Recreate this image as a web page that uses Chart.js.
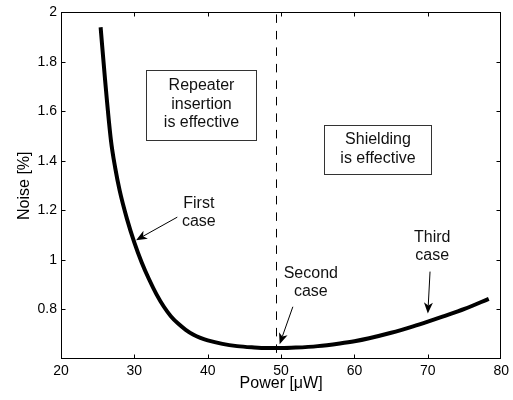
<!DOCTYPE html>
<html><head><meta charset="utf-8">
<script src="https://cdn.jsdelivr.net/npm/chart.js@4.4.1/dist/chart.umd.min.js"></script>
<style>html,body{margin:0;padding:0;background:#fff}</style>
</head><body>
<canvas id="c" width="513" height="400"></canvas>
<script>
// ---- data ----
const powerValues = [25.4, 26, 26.8, 27.4, 28, 29, 30, 31, 32, 33, 34, 35, 36, 37, 38, 39, 40, 42, 44, 46, 48, 50, 52, 55, 58, 60, 62, 65, 68, 70, 72, 75, 78.3];
const noiseValues = [1.94, 1.73, 1.485, 1.37, 1.28, 1.165, 1.07, 0.99, 0.922, 0.862, 0.812, 0.772, 0.742, 0.718, 0.699, 0.685, 0.675, 0.661, 0.652, 0.647, 0.644, 0.644, 0.646, 0.652, 0.663, 0.672, 0.684, 0.706, 0.732, 0.751, 0.771, 0.802, 0.843];
const xTickValues = [20, 30, 40, 50, 60, 70, 80];
const yTickValues = [0.8, 1, 1.2, 1.4, 1.6, 1.8, 2];
const boundaryPower = 49.3;

// annotation texts (anchored in data coordinates)
const boxedNotes = [
  { lines: ['Repeater', 'insertion', 'is effective'], x1: 31.58, x2: 46.58, yTop: 1.769, yBottom: 1.485 },
  { lines: ['Shielding', 'is effective'], x1: 55.9, x2: 70.45, yTop: 1.544, yBottom: 1.347 }
];
const caseNotes = [
  { lines: ['First', 'case'], x: 38.78, y: 1.191, from: [35.85, 1.173], to: [30.23, 1.08] },
  { lines: ['Second', 'case'], x: 54.05, y: 0.909, from: [51.6, 0.811], to: [49.8, 0.66] },
  { lines: ['Third', 'case'], x: 70.6, y: 1.055, from: [70.3, 0.953], to: [70.0, 0.784] }
];

const FONT = "'Liberation Sans', Arial, Helvetica, sans-serif";

const overlay = {
  id: 'overlay',
  beforeDatasetsDraw(chart) {
    const { ctx, chartArea: a, scales: { x } } = chart;
    const px = Math.round(x.getPixelForValue(boundaryPower)) + 0.5;
    ctx.save();
    ctx.strokeStyle = '#000';
    ctx.lineWidth = 1;
    ctx.setLineDash([8.5, 8]);
    ctx.beginPath();
    ctx.moveTo(px, a.top + 2);
    ctx.lineTo(px, a.bottom);
    ctx.stroke();
    ctx.restore();
  },
  afterDraw(chart) {
    const { ctx, chartArea: a, scales: { x, y } } = chart;
    ctx.save();
    // frame
    ctx.strokeStyle = '#000';
    ctx.lineWidth = 1;
    const L = Math.round(a.left) + 0.5, R = Math.round(a.right) - 0.5;
    const T = Math.round(a.top) + 0.5, B = Math.round(a.bottom) - 0.5;
    ctx.strokeRect(L, T, R - L, B - T);
    // inward ticks
    const tl = 4;
    ctx.beginPath();
    xTickValues.forEach(v => {
      const p = Math.round(x.getPixelForValue(v)) + 0.5;
      if (p <= L + 1 || p >= R - 1) return;
      ctx.moveTo(p, B); ctx.lineTo(p, B - tl);
      ctx.moveTo(p, T); ctx.lineTo(p, T + tl);
    });
    yTickValues.forEach(v => {
      const p = Math.round(y.getPixelForValue(v)) + 0.5;
      if (p <= T + 1 || p >= B - 1) return;
      ctx.moveTo(L, p); ctx.lineTo(L + tl, p);
      ctx.moveTo(R, p); ctx.lineTo(R - tl, p);
    });
    ctx.stroke();

    // text notes
    ctx.font = '16px ' + FONT;
    ctx.fillStyle = '#111';
    ctx.textAlign = 'center';
    ctx.textBaseline = 'middle';
    const lh = 18.5;
    const drawLines = (lines, cx, cy) => {
      const start = cy - (lines.length - 1) * lh / 2;
      lines.forEach((t, i) => ctx.fillText(t, cx, start + i * lh));
    };
    boxedNotes.forEach(n => {
      const x1 = Math.round(x.getPixelForValue(n.x1)) + 0.5, x2 = Math.round(x.getPixelForValue(n.x2)) + 0.5;
      const y1 = Math.round(y.getPixelForValue(n.yTop)) + 0.5, y2 = Math.round(y.getPixelForValue(n.yBottom)) + 0.5;
      ctx.strokeStyle = '#333';
      ctx.lineWidth = 1;
      ctx.strokeRect(x1, y1, x2 - x1, y2 - y1);
      drawLines(n.lines, (x1 + x2) / 2, (y1 + y2) / 2 - 1);
    });
    caseNotes.forEach(n => {
      drawLines(n.lines, x.getPixelForValue(n.x), y.getPixelForValue(n.y));
      const sx = x.getPixelForValue(n.from[0]), sy = y.getPixelForValue(n.from[1]);
      const ex = x.getPixelForValue(n.to[0]), ey = y.getPixelForValue(n.to[1]);
      const ang = Math.atan2(ey - sy, ex - sx);
      const hl = 11, hw = 4.5, back = 3;
      ctx.strokeStyle = '#000';
      ctx.lineWidth = 1;
      ctx.beginPath();
      ctx.moveTo(sx, sy);
      ctx.lineTo(ex - Math.cos(ang) * (hl - back), ey - Math.sin(ang) * (hl - back));
      ctx.stroke();
      const c = Math.cos(ang), s = Math.sin(ang);
      const bx = ex - c * hl, by = ey - s * hl;
      ctx.fillStyle = '#000';
      ctx.beginPath();
      ctx.moveTo(ex, ey);
      ctx.lineTo(bx - s * hw, by + c * hw);
      ctx.lineTo(ex - c * (hl - back), ey - s * (hl - back));
      ctx.lineTo(bx + s * hw, by - c * hw);
      ctx.closePath();
      ctx.fill();
      ctx.fillStyle = '#111';
    });
    ctx.restore();
  }
};

new Chart(document.getElementById('c'), {
  type: 'line',
  data: {
    datasets: [{
      data: powerValues.map((p, i) => ({ x: p, y: noiseValues[i] })),
      borderColor: '#000',
      borderWidth: 4,
      pointRadius: 0,
      fill: false,
      cubicInterpolationMode: 'monotone'
    }]
  },
  options: {
    responsive: false,
    devicePixelRatio: 1,
    animation: false,
    layout: { padding: { top: 10, right: 8, left: 0, bottom: 0 } },
    plugins: { legend: { display: false }, tooltip: { enabled: false } },
    scales: {
      x: {
        type: 'linear', min: 20, max: 80,
        afterBuildTicks: s => { s.ticks = xTickValues.map(v => ({ value: v })); },
        afterFit: s => { s.height = 41; },
        grid: { display: false, drawTicks: false },
        border: { display: false },
        ticks: { color: '#000', font: { family: FONT, size: 14 }, padding: 4, maxRotation: 0, autoSkip: false },
        title: { display: true, text: 'Power [μW]', color: '#000', font: { family: FONT, size: 16 }, padding: { top: 0, bottom: 7 } }
      },
      y: {
        type: 'linear', min: 0.6, max: 2,
        afterBuildTicks: s => { s.ticks = yTickValues.map(v => ({ value: v })); },
        afterFit: s => { s.width = 61; },
        grid: { display: false, drawTicks: false },
        border: { display: false },
        ticks: { color: '#000', font: { family: FONT, size: 14 }, padding: 4, autoSkip: false,
          callback: v => String(Number(Number(v).toFixed(1))) },
        title: { display: true, text: 'Noise [%]', color: '#000', font: { family: FONT, size: 16 }, padding: { top: 15, bottom: 0 } }
      }
    }
  },
  plugins: [overlay]
});
</script>
</body></html>
